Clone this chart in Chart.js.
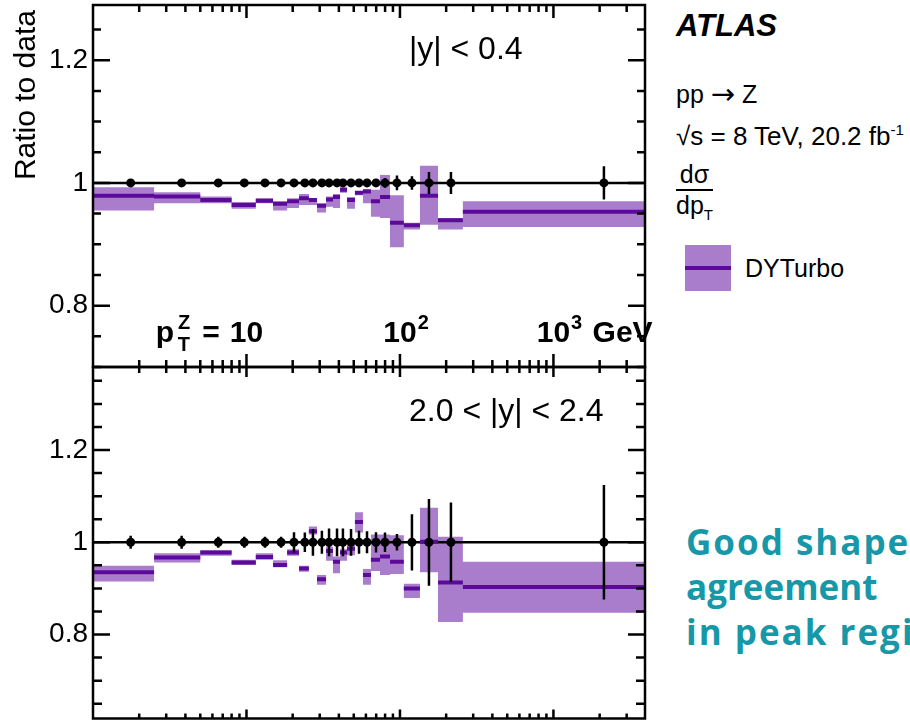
<!DOCTYPE html>
<html>
<head>
<meta charset="utf-8">
<script src="https://cdn.jsdelivr.net/npm/chart.js@4.4.1/dist/chart.umd.min.js"></script>
<style>
  html, body { margin: 0; padding: 0; background: #fff; }
  body { width: 910px; height: 723px; overflow: hidden; position: relative; font-family: "Liberation Sans", Arial, sans-serif; }
  canvas { position: absolute; left: 0; }
  #panelTop { top: 0; }
  #panelBottom { top: 355px; }
  .txt { position: absolute; white-space: nowrap; color: #000; line-height: 1; }
  .txt sup { font-size: 15px; line-height: 0; vertical-align: 10px; }
  .txt sub { font-size: 15px; line-height: 0; vertical-align: -6px; }
  .arrow { font-family: "DejaVu Sans", sans-serif; font-size: 29px; line-height: 0; vertical-align: -1px; }
  .note { position: absolute; left: 686px; top: 519px; white-space: nowrap; font-family: "Open Sans", sans-serif; font-weight: bold; font-size: 35px; line-height: 45px; color: #1798a8; }
  .note span { letter-spacing: 2px; }
</style>
</head>
<body>
<canvas id="panelTop" width="670" height="380"></canvas>
<canvas id="panelBottom" width="670" height="368"></canvas>

<div class="txt" style="left:676px; top:8px; font: italic bold 31px 'Liberation Sans', Arial, sans-serif;">ATLAS</div>
<div class="txt" style="left:676px; top:82px; font-size:25px;">pp <span class="arrow">&rarr;</span> Z</div>
<div class="txt" style="left:676px; top:123px; font-size:26px;">&radic;s = 8 TeV, 20.2 fb<sup>-1</sup></div>
<div class="txt" style="left:676px; top:162px; font-size:25px; text-align:center;">
  <div style="border-bottom:2px solid #000; padding:0 2px 2px;">d&sigma;</div>
  <div style="padding-top:2px;">dp<sub>T</sub></div>
</div>
<div style="position:absolute; left:685px; top:245px; width:46px; height:46px; background:#aa7dcc;">
  <div style="position:absolute; left:0; right:0; top:21px; height:4px; background:#5c0a9c;"></div>
</div>
<div class="txt" style="left:745px; top:256px; font-size:25px;">DYTurbo</div>

<div class="note"><span>Good shape</span><br>agreement<br><span>in peak region</span></div>

<script>
// pT bins (GeV) and data point positions
const binEdges = [1, 2.5, 5, 8, 11.5, 14.9, 18.4, 22, 25.5, 28.8, 33, 36.6, 40.7, 45.2, 50.9, 57.4, 64.7, 74.1, 86.1, 106, 135, 177, 257, 3950];
const ptPoints = [1.76, 3.78, 6.55, 9.68, 13.2, 16.8, 20.4, 24.0, 27.1, 31.0, 34.5, 38.9, 42.5, 48.0, 54.1, 61.0, 69.8, 79.9, 95.6, 119.7, 154.5, 214.9, 2133];

// |y| < 0.4
const dataCentral = [1, 1, 1, 1, 1, 1, 1, 1, 1, 1, 1, 1, 1, 1, 1, 1, 1, 1, 1, 1, 1, 1, 1];
const errCentral = [0.003, 0.003, 0.003, 0.003, 0.003, 0.003, 0.003, 0.003, 0.003, 0.003, 0.003, 0.003, 0.003, 0.003, 0.003, 0.004, 0.006, 0.008, 0.012, 0.011, 0.018, 0.018, 0.027];
const dyCentral = [0.979, 0.978, 0.972, 0.964, 0.971, 0.966, 0.970, 0.975, 0.972, 0.963, 0.973, 0.977, 0.989, 0.972, 0.984, 0.986, 0.970, 0.977, 0.935, 0.931, 0.979, 0.939, 0.953];
const dyCentralLo = [0.955, 0.967, 0.967, 0.958, 0.967, 0.955, 0.959, 0.964, 0.964, 0.952, 0.961, 0.959, 0.984, 0.958, 0.980, 0.967, 0.945, 0.943, 0.895, 0.924, 0.932, 0.924, 0.928];
const dyCentralHi = [0.993, 0.985, 0.978, 0.969, 0.975, 0.970, 0.975, 0.982, 0.975, 0.967, 0.978, 0.982, 0.993, 0.977, 0.987, 0.990, 0.989, 1.013, 0.980, 0.935, 1.028, 0.943, 0.970];

// 2.0 < |y| < 2.4
const dataForward = [1, 1, 1, 1, 1, 1, 1, 1, 1, 1, 1, 1, 1, 1, 1, 1, 1, 1, 1, 1, 1, 1, 1];
const errForward = [0.014, 0.014, 0.012, 0.012, 0.012, 0.012, 0.022, 0.021, 0.029, 0.025, 0.030, 0.030, 0.030, 0.029, 0.025, 0.024, 0.022, 0.021, 0.018, 0.061, 0.094, 0.086, 0.124];
const dyForward = [0.935, 0.967, 0.978, 0.956, 0.968, 0.951, 0.978, 0.943, 1.024, 0.920, 0.981, 0.958, 0.978, 0.986, 1.044, 0.929, 0.962, 0.969, 0.958, 0.900, 1.001, 0.913, 0.903];
const dyForwardLo = [0.915, 0.956, 0.971, 0.951, 0.962, 0.946, 0.971, 0.936, 1.017, 0.908, 0.960, 0.933, 0.960, 0.972, 1.021, 0.908, 0.938, 0.929, 0.931, 0.879, 0.935, 0.827, 0.847];
const dyForwardHi = [0.949, 0.976, 0.983, 0.962, 0.976, 0.961, 0.985, 0.949, 1.034, 0.929, 0.991, 0.969, 0.985, 0.994, 1.065, 0.942, 1.017, 1.017, 1.015, 0.910, 1.075, 1.012, 0.958];

// axis labels
const yTickLabels = [0.8, 1, 1.2];
const xTickValues = [10, 100, 1000];
const xTickExps = ['', '2', '3'];

const bandFill = '#aa7dcc';
const bandLine = '#5c0a9c';
const FONT = '"Liberation Sans", Arial, sans-serif';

function stepLine(values) {
  const pts = [];
  values.forEach((v, i) => {
    pts.push({ x: binEdges[i], y: v }, { x: binEdges[i + 1], y: v });
  });
  return pts;
}

function binSegments(values) {
  const pts = [];
  values.forEach((v, i) => {
    pts.push({ x: binEdges[i], y: v }, { x: binEdges[i + 1], y: v }, { x: binEdges[i + 1], y: null });
  });
  return pts;
}

function errorBars(values, errs) {
  const pts = [];
  values.forEach((v, i) => {
    pts.push({ x: ptPoints[i], y: v - errs[i] }, { x: ptPoints[i], y: v + errs[i] }, { x: ptPoints[i], y: null });
  });
  return pts;
}

// ROOT-like frame: inward ticks on all four sides, labels, titles
const rootFrame = {
  id: 'rootFrame',
  afterDatasetsDraw(chart, args, opts) {
    const { ctx, chartArea: a } = chart;
    const x = chart.scales.x, y = chart.scales.y;
    ctx.save();
    ctx.strokeStyle = '#000';
    ctx.lineWidth = 2.5;
    ctx.strokeRect(a.left, a.top, a.right - a.left, a.bottom - a.top);

    ctx.beginPath();
    for (let d = 1; d <= 1000; d *= 10) {
      for (let m = 1; m <= 9; m++) {
        const v = d * m;
        if (v <= x.min || v >= x.max) continue;
        const px = x.getPixelForValue(v);
        const major = m === 1;
        const lt = major ? opts.xMajorTop : opts.xMinorTop;
        const lb = major ? opts.xMajorBottom : opts.xMinorBottom;
        ctx.moveTo(px, a.top); ctx.lineTo(px, a.top + lt);
        ctx.moveTo(px, a.bottom); ctx.lineTo(px, a.bottom - lb);
      }
    }
    for (let k = Math.ceil(y.min / 0.05 - 1e-6); k * 0.05 < y.max; k++) {
      const py = y.getPixelForValue(k * 0.05);
      const l = k % 4 === 0 ? opts.yMajor : opts.yMinor;
      ctx.moveTo(a.left, py); ctx.lineTo(a.left + l, py);
      ctx.moveTo(a.right, py); ctx.lineTo(a.right - l, py);
    }
    ctx.stroke();

    ctx.fillStyle = '#000';
    ctx.font = '28px ' + FONT;
    ctx.textAlign = 'right';
    ctx.textBaseline = 'middle';
    yTickLabels.forEach(v => ctx.fillText(String(v), a.left - 5, y.getPixelForValue(v)));

    ctx.textAlign = 'left';
    ctx.font = '32px ' + FONT;
    ctx.fillText(opts.region, 409, a.top + 45);

    if (opts.title) {
      ctx.save();
      ctx.translate(27, a.top + 5);
      ctx.rotate(-Math.PI / 2);
      ctx.font = '30px ' + FONT;
      ctx.textAlign = 'right';
      ctx.textBaseline = 'middle';
      ctx.fillText(opts.title, 0, 0);
      ctx.restore();
    }

    if (opts.xLabels) {
      const base = a.bottom - 25;
      const big = 'bold 30px ' + FONT, small = 'bold 20px ' + FONT;
      ctx.textBaseline = 'alphabetic';
      xTickValues.forEach((v, i) => {
        const px = x.getPixelForValue(v);
        ctx.font = big;
        const w = ctx.measureText('10').width;
        ctx.textAlign = 'center';
        ctx.fillText('10', px, base);
        let cx = px + w / 2;
        if (xTickExps[i]) {
          ctx.font = small;
          ctx.textAlign = 'left';
          ctx.fillText(xTickExps[i], cx + 1, base - 13);
          cx += ctx.measureText(xTickExps[i]).width + 1;
        }
        if (i === xTickValues.length - 1) {
          ctx.font = big;
          ctx.textAlign = 'left';
          ctx.fillText(' GeV', cx + 2, base);
        }
        if (i === 0) {
          let lx = px - w / 2 - 10;
          ctx.font = big;
          ctx.textAlign = 'right';
          ctx.fillText('=', lx, base);
          lx -= ctx.measureText('=').width + 12;
          ctx.font = small;
          ctx.fillText('Z', lx, base - 13);
          const wz = ctx.measureText('Z').width;
          ctx.fillText('T', lx - wz + 12, base + 9);
          lx -= wz + 4;
          ctx.font = big;
          ctx.fillText('p', lx, base);
        }
      });
    }
    ctx.restore();
  }
};

function makePanel(id, vals, errs, central, lo, hi, yMin, yMax, pad, frameOpts) {
  return new Chart(document.getElementById(id), {
    type: 'line',
    data: {
      datasets: [
        { data: stepLine(lo), borderWidth: 0, pointRadius: 0, fill: false, order: 6 },
        { data: stepLine(hi), borderWidth: 0, pointRadius: 0, fill: '-1', backgroundColor: bandFill, order: 5 },
        { data: [{ x: binEdges[0], y: 1 }, { x: binEdges[binEdges.length - 1], y: 1 }], borderColor: '#000', borderWidth: 2.5, pointRadius: 0, order: 4 },
        { data: binSegments(central), borderColor: bandLine, borderWidth: 4, borderCapStyle: 'butt', pointRadius: 0, spanGaps: false, order: 3 },
        { data: errorBars(vals, errs), borderColor: '#000', borderWidth: 2.5, pointRadius: 0, spanGaps: false, order: 2 },
        { data: ptPoints.map((p, i) => ({ x: p, y: vals[i] })), showLine: false, pointRadius: 4.5, pointBackgroundColor: '#000', pointBorderWidth: 0, order: 1 }
      ]
    },
    options: {
      responsive: false,
      animation: false,
      devicePixelRatio: 1,
      events: [],
      layout: { padding: pad },
      elements: { line: { tension: 0 } },
      plugins: { legend: { display: false }, tooltip: { enabled: false }, rootFrame: frameOpts },
      scales: {
        x: { type: 'logarithmic', min: binEdges[0], max: binEdges[binEdges.length - 1], display: false },
        y: { type: 'linear', min: yMin, max: yMax, display: false }
      }
    },
    plugins: [rootFrame]
  });
}

makePanel('panelTop', dataCentral, errCentral, dyCentral, dyCentralLo, dyCentralHi, 0.70, 1.29,
  { left: 93, right: 25, top: 5, bottom: 13 },
  { region: '|y| < 0.4', title: 'Ratio to data', xLabels: true, xMinorTop: 7, xMajorTop: 13, xMinorBottom: 7, xMajorBottom: 13, yMinor: 8, yMajor: 17 });

makePanel('panelBottom', dataForward, errForward, dyForward, dyForwardLo, dyForwardHi, 0.618, 1.38,
  { left: 93, right: 25, top: 12, bottom: 3 },
  { region: '2.0 < |y| < 2.4', title: null, xLabels: false, xMinorTop: 6, xMajorTop: 10, xMinorBottom: 5, xMajorBottom: 9, yMinor: 9, yMajor: 17 });
</script>
</body>
</html>
